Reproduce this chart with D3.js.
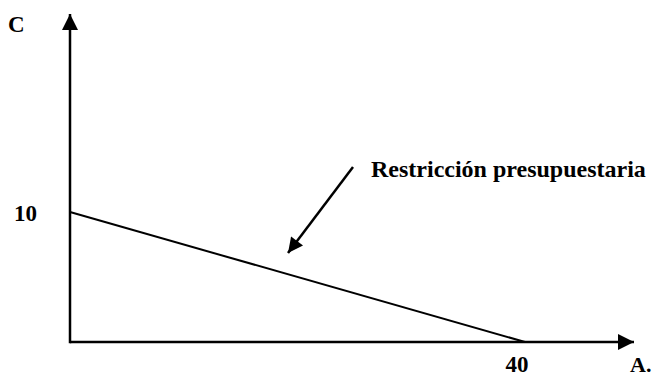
<!DOCTYPE html>
<html>
<head>
<meta charset="utf-8">
<script src="https://cdn.jsdelivr.net/npm/d3@7"></script>
<style>
body { margin: 0; background: #fff; }
text { font-family: "Liberation Serif", "Times New Roman", serif; font-weight: bold; fill: #000; }
</style>
</head>
<body>
<div id="chart-area"></div>
<script>
var width = 655,
    height = 377;

// budget line: C = 10 when A = 0, A = 40 when C = 0
var budgetA = [0, 40];
var budgetC = [10, 0];
var xTicks = [40];
var yTicks = [10];
var axisLabels = { x: "A.", y: "C" };
var note = "Restricción presupuestaria";

var svg = d3.select("#chart-area").append("svg")
    .attr("width", width)
    .attr("height", height);

var x = d3.scaleLinear().domain([0, 40]).range([70, 525]);
var y = d3.scaleLinear().domain([0, 10]).range([342, 212]);

var defs = svg.append("defs");

function addHead(id, w, h) {
    defs.append("marker")
        .attr("id", id)
        .attr("viewBox", "0 0 10 10")
        .attr("refX", 10).attr("refY", 5)
        .attr("markerWidth", w).attr("markerHeight", h)
        .attr("markerUnits", "userSpaceOnUse")
        .attr("orient", "auto")
      .append("path")
        .attr("d", "M0,0L10,5L0,10Z")
        .attr("fill", "#000");
}
addHead("big", 17, 16);
addHead("head", 20, 15);

// axes
svg.append("line")
    .attr("x1", x(0)).attr("y1", y(0))
    .attr("x2", 634).attr("y2", y(0))
    .attr("stroke", "#000").attr("stroke-width", 2.5)
    .attr("marker-end", "url(#big)");

svg.append("line")
    .attr("x1", x(0)).attr("y1", y(0) + 1.2)
    .attr("x2", x(0)).attr("y2", 14)
    .attr("stroke", "#000").attr("stroke-width", 2.5)
    .attr("marker-end", "url(#big)");

// budget line
svg.append("line")
    .attr("x1", x(budgetA[0])).attr("y1", y(budgetC[0]))
    .attr("x2", x(budgetA[1])).attr("y2", y(budgetC[1]))
    .attr("stroke", "#000").attr("stroke-width", 2);

// tick labels
svg.selectAll(".ytick")
    .data(yTicks)
    .enter().append("text")
    .attr("class", "ytick")
    .attr("x", 14)
    .attr("y", d => y(d) + 9)
    .style("font-size", "23px")
    .text(d => d);

svg.selectAll(".xtick")
    .data(xTicks)
    .enter().append("text")
    .attr("class", "xtick")
    .attr("x", d => x(d) - 8)
    .attr("y", 372)
    .attr("text-anchor", "middle")
    .style("font-size", "23px")
    .text(d => d);

svg.append("text")
    .attr("x", 8).attr("y", 32)
    .style("font-size", "23px")
    .text(axisLabels.y);

svg.append("text")
    .attr("x", 630).attr("y", 372)
    .style("font-size", "22px")
    .text(axisLabels.x);

// annotation
svg.append("text")
    .attr("x", 371).attr("y", 177)
    .style("font-size", "24px")
    .text(note);

svg.append("line")
    .attr("x1", 353).attr("y1", 167)
    .attr("x2", 288).attr("y2", 253)
    .attr("stroke", "#000").attr("stroke-width", 2.5)
    .attr("marker-end", "url(#head)");
</script>
</body>
</html>
